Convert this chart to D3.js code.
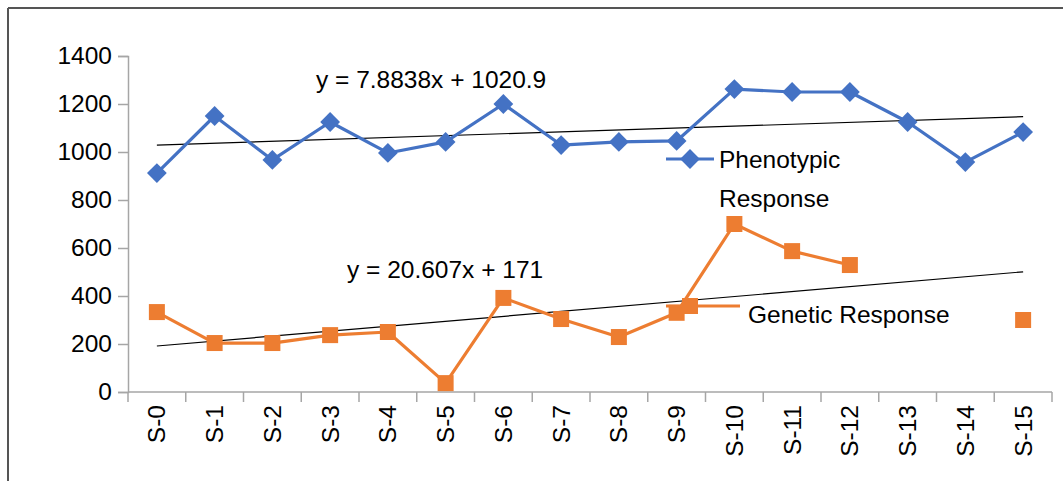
<!DOCTYPE html>
<html>
<head>
<meta charset="utf-8">
<script src="https://cdn.jsdelivr.net/npm/d3@7"></script>
<style>
  html, body { margin: 0; padding: 0; background: #fff; }
  svg { display: block; font-family: "Liberation Sans", Arial, sans-serif; }
</style>
</head>
<body>
<svg id="chart" width="1063" height="481"></svg>
<script>
// Generation labels
const categories = ["S-0","S-1","S-2","S-3","S-4","S-5","S-6","S-7","S-8","S-9","S-10","S-11","S-12","S-13","S-14","S-15"];
// Phenotypic response per generation
const phenotypic = [912, 1150, 967, 1125, 996, 1042, 1200, 1029, 1042, 1046, 1262, 1250, 1250, 1125, 958, 1083];
// Genetic response per generation (null = not recorded)
const genetic = [333, 204, 204, 237, 250, 37, 392, 304, 229, 330, 700, 587, 529, null, null, 300];
// Y axis ticks
const yTicks = [0, 200, 400, 600, 800, 1000, 1200, 1400];
// Linear trend lines (x = 1..16)
const phenoTrend = { slope: 7.8838, intercept: 1020.9, label: "y = 7.8838x + 1020.9" };
const geneTrend = { slope: 20.607, intercept: 171, label: "y = 20.607x + 171" };

const BLUE = "#4472C4", ORANGE = "#ED7D31";
const FS = 24.5;
const svg = d3.select("#chart");

// chart frame
svg.append("line").attr("x1", 8).attr("x2", 1063).attr("y1", 8).attr("y2", 8)
  .attr("stroke", "#555").attr("stroke-width", 2);
svg.append("line").attr("x1", 8).attr("x2", 8).attr("y1", 8).attr("y2", 481)
  .attr("stroke", "#555").attr("stroke-width", 2);

const plotL = 128, plotR = 1052, plotT = 56, plotB = 392;
const x = d3.scaleBand().domain(categories).range([plotL, plotR]);
const y = d3.scaleLinear().domain([0, 1400]).range([plotB, plotT]);
const cx = d => x(d) + x.bandwidth() / 2;

// Y axis
const yAxis = svg.append("g").attr("transform", `translate(${plotL},0)`)
  .call(d3.axisLeft(y).tickValues(yTicks).tickFormat(d3.format("d")).tickSize(10).tickPadding(6));
yAxis.select(".domain").attr("stroke", "#a6a6a6").attr("stroke-width", 1.5);
yAxis.selectAll(".tick line").attr("stroke", "#a6a6a6").attr("stroke-width", 1.5);
yAxis.selectAll(".tick text").attr("font-size", FS).attr("fill", "#000")
  .attr("font-family", "Liberation Sans, Arial, sans-serif");

// X axis: ticks at category boundaries
const xg = svg.append("g");
xg.append("line").attr("x1", plotL).attr("x2", plotR).attr("y1", plotB).attr("y2", plotB)
  .attr("stroke", "#a6a6a6").attr("stroke-width", 1.5);
const bounds = categories.map(c => x(c)).concat([plotR]);
xg.selectAll("line.tk").data(bounds).join("line").attr("class", "tk")
  .attr("x1", d => d).attr("x2", d => d).attr("y1", plotB).attr("y2", plotB + 10)
  .attr("stroke", "#a6a6a6").attr("stroke-width", 1.5);
xg.selectAll("text").data(categories).join("text")
  .attr("transform", d => `translate(${cx(d)},${plotB + 13}) rotate(-90)`)
  .attr("text-anchor", "end").attr("dy", "0.35em")
  .attr("font-size", FS).attr("fill", "#000").text(d => d);

// trend lines
function trend(t) {
  const i0 = 0, i1 = categories.length - 1;
  svg.append("line")
    .attr("x1", cx(categories[i0])).attr("y1", y(t.slope * (i0 + 1) + t.intercept))
    .attr("x2", cx(categories[i1])).attr("y2", y(t.slope * (i1 + 1) + t.intercept))
    .attr("stroke", "#000").attr("stroke-width", 1.2);
}
trend(phenoTrend);
trend(geneTrend);

// series lines
const line = d3.line().defined(d => d.v != null).x(d => cx(d.c)).y(d => y(d.v));
const pData = categories.map((c, i) => ({ c, v: phenotypic[i] }));
const gData = categories.map((c, i) => ({ c, v: genetic[i] }));

svg.append("path").datum(pData).attr("d", line).attr("fill", "none")
  .attr("stroke", BLUE).attr("stroke-width", 3.2).attr("stroke-linejoin", "round");
svg.append("path").datum(gData).attr("d", line).attr("fill", "none")
  .attr("stroke", ORANGE).attr("stroke-width", 3.2).attr("stroke-linejoin", "round");

function drawDiamond(g, px, py) {
  g.append("rect").attr("x", px - 7).attr("y", py - 7).attr("width", 14).attr("height", 14)
    .attr("fill", BLUE).attr("transform", `rotate(45,${px},${py})`);
}
function drawSquare(g, px, py) {
  g.append("rect").attr("x", px - 8).attr("y", py - 8).attr("width", 16).attr("height", 16)
    .attr("fill", ORANGE);
}
const pm = svg.append("g");
pData.forEach(d => drawDiamond(pm, cx(d.c), y(d.v)));
const gm = svg.append("g");
gData.filter(d => d.v != null).forEach(d => drawSquare(gm, cx(d.c), y(d.v)));

// trend equations
svg.append("text").attr("x", 316).attr("y", 88).attr("font-size", FS).text(phenoTrend.label);
svg.append("text").attr("x", 347).attr("y", 278).attr("font-size", FS).text(geneTrend.label);

// legend
const lg = svg.append("g");
lg.append("line").attr("x1", 666).attr("x2", 714).attr("y1", 159).attr("y2", 159)
  .attr("stroke", BLUE).attr("stroke-width", 3.2);
drawDiamond(lg, 690, 159);
lg.append("text").attr("x", 719).attr("y", 168).attr("font-size", FS).text("Phenotypic");
lg.append("text").attr("x", 719).attr("y", 207).attr("font-size", FS).text("Response");

lg.append("line").attr("x1", 666).attr("x2", 740).attr("y1", 306).attr("y2", 306)
  .attr("stroke", ORANGE).attr("stroke-width", 3.2);
drawSquare(lg, 690, 306);
lg.append("text").attr("x", 748).attr("y", 323).attr("font-size", FS).text("Genetic Response");
</script>
</body>
</html>
